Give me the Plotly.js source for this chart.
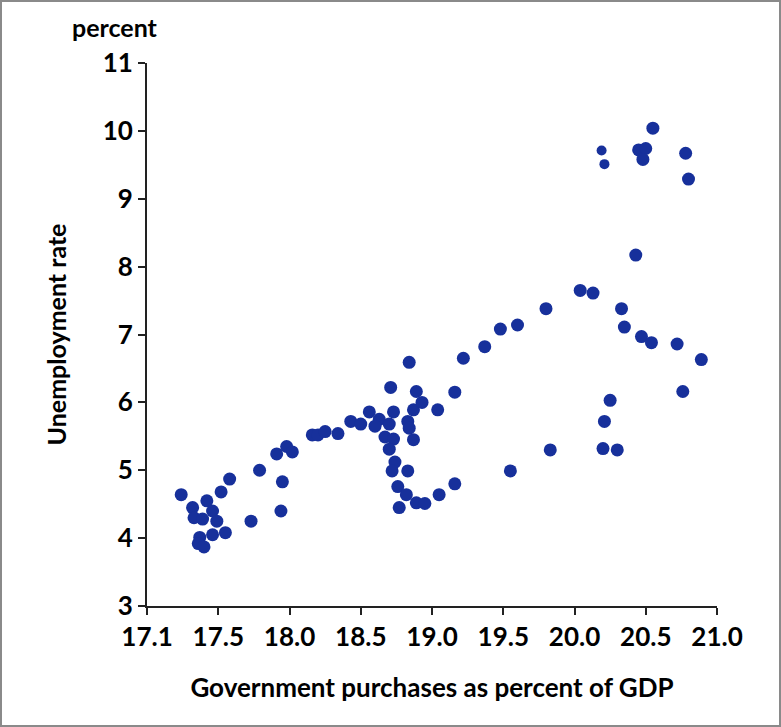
<!DOCTYPE html>
<html>
<head>
<meta charset="utf-8">
<script src="https://cdn.plot.ly/plotly-3.0.1.min.js"></script>
<style>
  html, body { margin: 0; padding: 0; background: #fff; }
  #chart { width: 781px; height: 727px; }
</style>
</head>
<body>
<div id="chart"></div>
<script>
// Government purchases as percent of GDP (x) vs unemployment rate (y)
const govPurchases = [
  17.24, 17.32, 17.42, 17.33, 17.39, 17.46, 17.49, 17.52, 17.58, 17.37,
  17.36, 17.40, 17.46, 17.55, 17.79, 17.73, 17.95, 17.94, 17.91, 17.98,
  18.02, 18.16, 18.20, 18.25, 18.34, 18.43, 18.50, 18.56, 18.63, 18.60,
  18.70, 18.73, 18.71, 18.83, 18.84, 18.87, 18.89, 18.93, 19.04, 19.16,
  18.84, 19.22, 19.37, 18.67, 18.73, 18.87, 18.70, 18.74, 18.72, 18.83,
  18.76, 18.82, 18.77, 18.89, 18.95, 19.05, 19.16, 19.48, 19.60, 19.80,
  20.04, 20.13, 19.55, 19.83, 20.20, 20.30, 20.21, 20.25, 20.33, 20.35,
  20.47, 20.54, 20.72, 20.89, 20.76, 20.43, 20.55, 20.45, 20.50, 20.48,
  20.78, 20.80
];
const unemployment = [
  4.64, 4.45, 4.55, 4.30, 4.28, 4.40, 4.25, 4.68, 4.87, 4.01,
  3.92, 3.87, 4.05, 4.08, 5.00, 4.25, 4.83, 4.40, 5.24, 5.35,
  5.27, 5.52, 5.52, 5.57, 5.54, 5.72, 5.68, 5.86, 5.75, 5.65,
  5.68, 5.86, 6.22, 5.72, 5.62, 5.89, 6.16, 6.00, 5.89, 6.15,
  6.59, 6.65, 6.82, 5.49, 5.46, 5.45, 5.31, 5.12, 4.99, 4.99,
  4.76, 4.64, 4.45, 4.52, 4.51, 4.64, 4.80, 7.08, 7.14, 7.38,
  7.65, 7.61, 4.99, 5.30, 5.32, 5.30, 5.72, 6.03, 7.38, 7.11,
  6.97, 6.88, 6.86, 6.63, 6.16, 8.17, 10.04, 9.72, 9.74, 9.58,
  9.67, 9.29
];
// two slightly smaller dots in the upper right
const govPurchasesSmall = [20.19, 20.21];
const unemploymentSmall = [9.71, 9.51];

const xTickVals = [17.0, 17.5, 18.0, 18.5, 19.0, 19.5, 20.0, 20.5, 21.0];
const xTickText = ['17.1', '17.5', '18.0', '18.5', '19.0', '19.5', '20.0', '20.5', '21.0'];
const yTickVals = [3, 4, 5, 6, 7, 8, 9, 10, 11];
const yTickText = ['3', '4', '5', '6', '7', '8', '9', '10', '11'];

const dotColor = '#17309b';
const fontFam = 'Lato, "Open Sans", sans-serif';
const tickFont = { family: 'Lato, sans-serif', size: 26, color: '#000', weight: 700 };

const traces = [
  {
    type: 'scatter', mode: 'markers',
    x: govPurchases, y: unemployment,
    marker: { color: dotColor, size: 13, line: { width: 0 } },
    hoverinfo: 'x+y', showlegend: false
  },
  {
    type: 'scatter', mode: 'markers',
    x: govPurchasesSmall, y: unemploymentSmall,
    marker: { color: dotColor, size: 10, line: { width: 0 } },
    hoverinfo: 'x+y', showlegend: false
  }
];

const W = 781, H = 727, L = 147, R = 64, T = 63, B = 121;
const pw = W - L - R, ph = H - T - B;

const layout = {
  width: W, height: H,
  margin: { l: L, r: R, t: T, b: B, pad: 0 },
  paper_bgcolor: '#ffffff', plot_bgcolor: '#ffffff',
  font: { family: fontFam, color: '#000', size: 23, weight: 700 },
  xaxis: {
    range: [17.0, 21.0], tickmode: 'array', tickvals: xTickVals, ticktext: xTickText,
    showgrid: false, zeroline: false, showline: true, linecolor: '#222', linewidth: 2,
    ticks: 'outside', ticklen: 7, tickwidth: 2, tickcolor: '#222',
    tickfont: tickFont,
    title: { text: 'Government purchases as percent of GDP', font: { family: fontFam, size: 26, color: '#000', weight: 700 }, standoff: 28 }
  },
  yaxis: {
    range: [3, 11], tickmode: 'array', tickvals: yTickVals, ticktext: yTickText,
    showgrid: false, zeroline: false, showline: true, linecolor: '#222', linewidth: 2,
    ticks: 'outside', ticklen: 7, tickwidth: 2, tickcolor: '#222',
    tickfont: tickFont,
    title: { text: 'Unemployment rate', font: { family: fontFam, size: 25, color: '#000', weight: 700 }, standoff: 29 }
  },
  annotations: [
    {
      text: 'percent', xref: 'paper', yref: 'paper',
      x: (70 - L) / pw, y: (H - B - 27) / ph, xanchor: 'left', yanchor: 'middle',
      showarrow: false, font: { family: fontFam, size: 25, color: '#000', weight: 700 }
    }
  ],
  shapes: [
    {
      type: 'rect', xref: 'paper', yref: 'paper', layer: 'above',
      x0: (1 - L) / pw, x1: (W - 1 - L) / pw,
      y0: (H - B - (H - 1)) / ph, y1: (H - B - 1) / ph,
      line: { color: '#8a8a8a', width: 2 }, fillcolor: 'rgba(0,0,0,0)'
    }
  ]
};

Plotly.newPlot('chart', traces, layout, { displayModeBar: false, staticPlot: true });
</script>
</body>
</html>
